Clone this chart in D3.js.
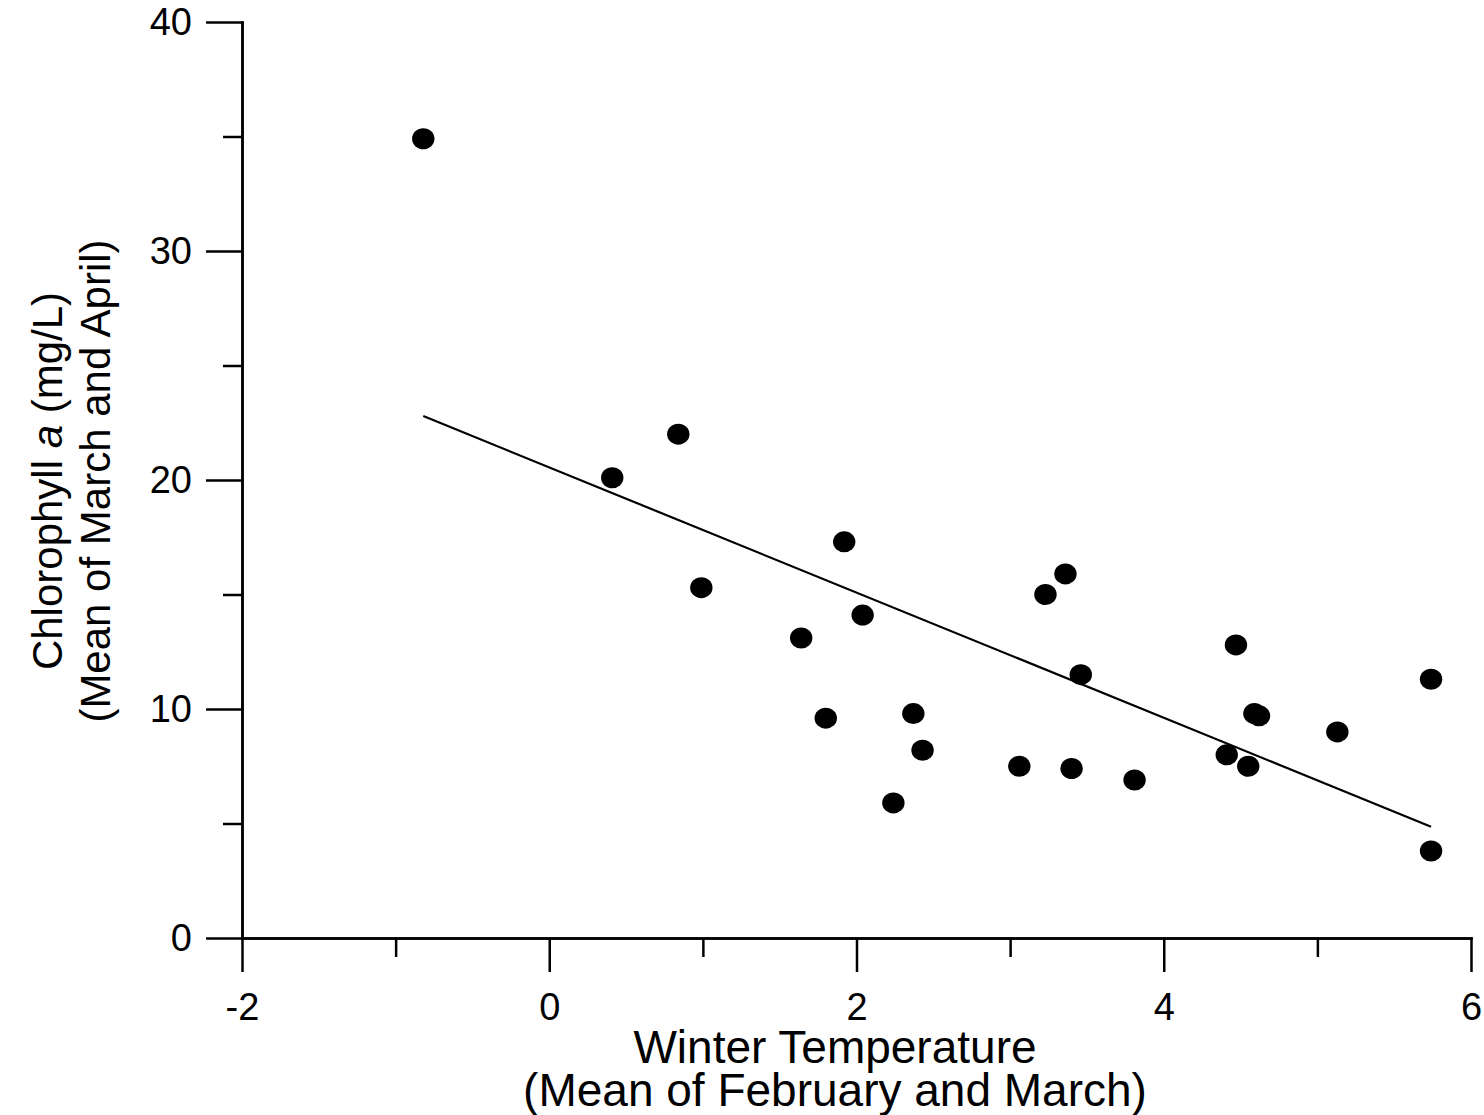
<!DOCTYPE html>
<html>
<head>
<meta charset="utf-8">
<script src="https://cdn.jsdelivr.net/npm/d3@7"></script>
<style>
	body { margin: 0; background: #fff; }
	svg { display: block; font-family: "Liberation Sans", Arial, sans-serif; }
	.axis path, .axis line { stroke: #000; stroke-width: 2.5px; }
	.axis text { font-size: 38px; fill: #000; font-family: "Liberation Sans", Arial, sans-serif; }
</style>
</head>
<body>
<div id="chart"></div>
<script>
/* winter temperature vs chlorophyll a */
var temps = [-0.82, 0.41, 0.84, 0.99, 1.64, 1.80, 1.92, 2.04, 2.24, 2.37, 2.43, 3.06, 3.23, 3.36,
	3.40, 3.46, 3.81, 4.41, 4.47, 4.55, 4.59, 4.62, 5.13, 5.74, 5.74];
var chl = [34.9, 20.1, 22.0, 15.3, 13.1, 9.6, 17.3, 14.1, 5.9, 9.8, 8.2, 7.5, 15.0, 15.9,
	7.4, 11.5, 6.9, 8.0, 12.8, 7.5, 9.8, 9.7, 9.0, 11.3, 3.8];
var fitSlope = -2.733,
	fitIntercept = 20.55;
var xTicks = [-2, 0, 2, 4, 6],
	xMinor = [-1, 1, 3, 5];
var yTicks = [0, 10, 20, 30, 40],
	yMinor = [5, 15, 25, 35];

var width = 1484,
	height = 1115;

var svg = d3.select("#chart").append("svg")
	.attr("width", width)
	.attr("height", height);

var x = d3.scaleLinear().domain([-2, 6]).range([242, 1471]);
var y = d3.scaleLinear().domain([0, 40]).range([938, 22]);

// plain hyphen for negatives, like the original
var fmt = function(d) { return String(d); };

/* Axes */
svg.append("g").attr("class", "axis")
	.attr("transform", "translate(0,938)")
	.call(d3.axisBottom(x).tickValues(xTicks).tickSize(34).tickSizeOuter(0).tickPadding(21).tickFormat(fmt));
svg.append("g").attr("class", "axis")
	.attr("transform", "translate(0,938)")
	.call(d3.axisBottom(x).tickValues(xMinor).tickSize(19).tickSizeOuter(0).tickFormat(""));
svg.append("g").attr("class", "axis")
	.attr("transform", "translate(242,0)")
	.call(d3.axisLeft(y).tickValues(yTicks).tickSize(36).tickSizeOuter(0).tickPadding(14).tickFormat(fmt));
svg.append("g").attr("class", "axis")
	.attr("transform", "translate(242,0)")
	.call(d3.axisLeft(y).tickValues(yMinor).tickSize(19).tickSizeOuter(0).tickFormat(""));

svg.selectAll(".axis .domain").attr("stroke-linecap", "square");

/* Fit line */
var ext = d3.extent(temps);
svg.append("line")
	.attr("x1", x(ext[0])).attr("y1", y(fitIntercept + fitSlope * ext[0]))
	.attr("x2", x(ext[1])).attr("y2", y(fitIntercept + fitSlope * ext[1]))
	.attr("stroke", "#000")
	.attr("stroke-width", 2.2);

/* Points */
svg.append("g").selectAll("ellipse")
	.data(temps)
	.enter().append("ellipse")
	.attr("cx", function(d) { return x(d); })
	.attr("cy", function(d, i) { return y(chl[i]); })
	.attr("rx", 11.2)
	.attr("ry", 10.5)
	.attr("fill", "#000");

/* Axis titles */
var xt = svg.append("text")
	.attr("text-anchor", "middle")
	.style("font-size", "46px");
xt.append("tspan").attr("x", 835).attr("y", 1063).text("Winter Temperature");
xt.append("tspan").attr("x", 835).attr("y", 1106).text("(Mean of February and March)");

var yt = svg.append("text")
	.attr("text-anchor", "middle")
	.attr("transform", "translate(0,481) rotate(-90)")
	.style("font-size", "42px");
var l1 = yt.append("tspan").attr("x", 0).attr("y", 62);
l1.append("tspan").text("Chlorophyll ");
l1.append("tspan").style("font-style", "italic").text("a");
l1.append("tspan").text(" (mg/L)");
yt.append("tspan").attr("x", 0).attr("y", 110).text("(Mean of March and April)");
</script>
</body>
</html>
